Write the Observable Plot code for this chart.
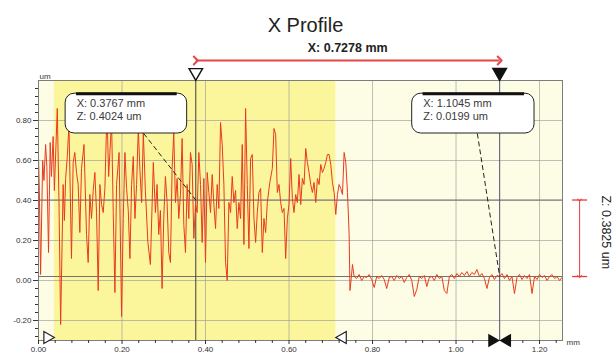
<!DOCTYPE html>
<html><head><meta charset="utf-8">
<script src="https://cdn.jsdelivr.net/npm/d3@7"></script>
<script src="https://cdn.jsdelivr.net/npm/@observablehq/plot@0.6"></script>
<style>body{margin:0;background:#fff;}</style>
</head><body><div id="chart"></div>
<script>
const title = "X Profile";
const xUnit = "mm", zUnit = "um";
const cursorX = [0.3767, 1.1045];
const cursorZ = [0.4024, 0.0199];
const deltaXLabel = "X: 0.7278 mm";
const deltaZLabel = "Z: 0.3825 um";
const band = [0.038, 0.712];
const xMajor = [0, 0.2, 0.4, 0.6, 0.8, 1.0, 1.2];
const yMajor = [-0.2, 0, 0.2, 0.4, 0.6, 0.8];
const xMinor = [0.04,0.08,0.12,0.16,0.24,0.28,0.32,0.36,0.44,0.48,0.52,0.56,0.64,0.68,0.72,0.76,0.84,0.88,0.92,0.96,1.04,1.08,1.12,1.16,1.24];
const yMinor = [-0.28,-0.24,-0.16,-0.12,-0.08,-0.04,0.04,0.08,0.12,0.16,0.24,0.28,0.32,0.36,0.44,0.48,0.52,0.56,0.64,0.68,0.72,0.76,0.84,0.88,0.92,0.96];

// rough (polished-off) region of the profile: [x mm, z um]
const roughProfile = [
[0.000,0.62],[0.002,0.45],[0.005,0.03],[0.010,0.60],[0.013,0.50],[0.017,0.68],[0.020,0.57],[0.024,0.14],
[0.028,0.69],[0.031,0.52],[0.035,0.72],[0.038,0.45],[0.045,0.86],[0.049,0.40],[0.053,-0.22],[0.059,0.48],
[0.062,0.30],[0.065,0.51],[0.069,0.62],[0.073,0.78],[0.079,0.11],[0.083,0.59],[0.087,0.64],[0.091,0.54],
[0.095,0.48],[0.099,0.24],[0.103,0.56],[0.109,0.68],[0.115,0.23],[0.119,0.09],[0.123,0.43],[0.127,0.31],
[0.131,0.45],[0.135,0.54],[0.139,0.34],[0.143,-0.05],[0.147,0.48],[0.151,0.38],[0.155,0.34],[0.159,0.46],
[0.164,0.85],[0.168,0.52],[0.171,0.64],[0.175,0.80],[0.179,0.34],[0.183,-0.06],[0.187,0.48],[0.193,0.64],
[0.199,-0.18],[0.203,0.31],[0.207,0.64],[0.211,0.46],[0.215,0.35],[0.219,0.11],[0.223,0.48],[0.227,0.62],
[0.231,0.31],[0.235,0.48],[0.239,0.76],[0.243,0.55],[0.247,0.39],[0.251,0.74],[0.256,0.45],[0.262,0.19],
[0.268,0.08],[0.275,0.59],[0.280,0.34],[0.284,0.48],[0.288,0.23],[0.292,0.35],[0.296,-0.04],[0.300,0.31],
[0.304,0.52],[0.308,0.39],[0.312,0.14],[0.316,0.09],[0.320,0.56],[0.324,0.74],[0.328,0.39],[0.332,0.51],
[0.336,0.31],[0.340,0.43],[0.344,0.71],[0.348,0.28],[0.352,0.14],[0.356,0.48],[0.360,0.31],[0.364,0.64],
[0.368,0.58],[0.372,0.21],[0.376,0.38],[0.380,0.34],[0.384,0.64],[0.388,0.48],[0.392,0.19],[0.396,0.51],
[0.400,0.09],[0.404,0.54],[0.408,0.44],[0.412,0.34],[0.416,0.53],[0.420,0.38],[0.424,0.26],[0.428,0.48],
[0.432,0.36],[0.436,0.79],[0.440,0.68],[0.444,0.48],[0.448,0.09],[0.452,0.00],[0.456,0.39],[0.460,0.34],
[0.464,0.52],[0.468,0.39],[0.472,0.45],[0.476,0.26],[0.480,0.39],[0.484,0.31],[0.488,0.68],[0.492,0.18],
[0.496,0.86],[0.500,0.48],[0.504,0.16],[0.508,0.61],[0.512,0.63],[0.516,0.31],[0.520,0.19],[0.524,0.34],
[0.528,0.44],[0.532,0.46],[0.536,0.14],[0.540,0.31],[0.544,0.24],[0.548,0.39],[0.554,0.49],[0.560,0.56],
[0.564,0.76],[0.568,0.73],[0.572,0.44],[0.576,0.48],[0.580,0.39],[0.584,0.34],[0.588,0.36],[0.592,0.11],
[0.596,0.31],[0.600,0.38],[0.604,0.61],[0.608,0.41],[0.612,0.34],[0.616,0.43],[0.620,0.39],[0.624,0.53],
[0.628,0.38],[0.632,0.51],[0.636,0.48],[0.640,0.66],[0.644,0.59],[0.648,0.54],[0.652,0.48],[0.656,0.44],
[0.660,0.49],[0.664,0.39],[0.668,0.51],[0.672,0.48],[0.676,0.58],[0.680,0.54],[0.684,0.56],[0.688,0.59],
[0.692,0.63],[0.696,0.63],[0.700,0.58],[0.704,0.49],[0.708,0.44],[0.712,0.33],[0.716,0.43],[0.720,0.48],
[0.724,0.46],[0.728,0.43],[0.732,0.64],[0.736,0.59],[0.740,0.44],[0.744,0.23],[0.746,-0.05],[0.749,0.01],
[0.752,0.08]
];
// flat (polished) region of the profile
const flatProfile = [
[0.756,0.02],[0.762,0.01],[0.768,0.03],[0.774,0.00],[0.780,0.02],[0.786,0.015],[0.792,0.03],[0.798,0.005],
[0.804,-0.035],[0.810,0.02],[0.816,0.01],[0.822,0.025],[0.828,0.005],[0.834,-0.04],[0.840,0.015],[0.846,0.02],
[0.852,0.00],[0.858,0.025],[0.864,0.01],[0.870,0.02],[0.876,-0.01],[0.882,0.015],[0.888,0.03],[0.894,0.00],
[0.900,-0.08],[0.906,-0.045],[0.912,0.02],[0.918,0.01],[0.924,0.025],[0.930,-0.03],[0.936,0.015],[0.942,0.02],
[0.948,0.00],[0.954,0.03],[0.960,0.01],[0.966,0.02],[0.972,-0.05],[0.978,-0.065],[0.984,0.02],[0.990,0.03],
[0.996,0.01],[1.002,0.035],[1.008,0.02],[1.014,0.04],[1.020,0.025],[1.026,0.045],[1.032,0.02],[1.038,0.04],
[1.044,0.03],[1.050,0.055],[1.056,0.02],[1.062,0.035],[1.068,0.01],[1.074,-0.04],[1.080,0.015],[1.086,0.03],
[1.092,0.005],[1.098,0.025],[1.104,0.02],[1.110,0.035],[1.116,0.01],[1.122,0.03],[1.128,0.00],[1.134,0.02],
[1.140,-0.065],[1.146,0.015],[1.152,0.03],[1.158,0.005],[1.164,0.025],[1.170,0.01],[1.176,0.03],[1.182,-0.065],
[1.188,0.02],[1.194,0.005],[1.200,0.03],[1.206,0.015],[1.212,0.025],[1.218,0.00],[1.224,0.02],[1.230,0.03],
[1.236,0.01],[1.242,0.02],[1.248,0.00],[1.254,0.015]
];

const xMax = 1.255, yMin = -0.3, yMax = 1.0;
const profile = roughProfile.concat(flatProfile).map(([x, z]) => ({x, z}));
const fmt = d => d.toFixed(2);
const callouts = [
  {x1: 0.065, x2: 0.356, y1: 0.735, y2: 0.934, lx: 0.252, cx: cursorX[0], cz: cursorZ[0]},
  {x1: 0.895, x2: 1.188, y1: 0.735, y2: 0.934, lx: 1.051, cx: cursorX[1], cz: cursorZ[1]}
].map(d => ({...d, text: `X: ${d.cx.toFixed(4)} mm\nZ: ${d.cz.toFixed(4)} um`}));
const midX = (cursorX[0] + cursorX[1]) / 2;
const measX = xMax + 0.041;

const chart = Plot.plot({
  width: 614, height: 358,
  marginTop: 80, marginBottom: 18, marginLeft: 38, marginRight: 52,
  style: {fontFamily: "'Liberation Sans', Arial, sans-serif", background: "white", overflow: "visible"},
  x: {domain: [0, xMax]},
  y: {domain: [yMin, yMax]},
  marks: [
    Plot.frame({fill: "#fdfce4"}),
    Plot.rect([band], {x1: d => d[0], x2: d => d[1], fill: "#fbf59c"}),
    Plot.gridX(xMajor, {stroke: "#9a9a9a", strokeOpacity: 0.8, strokeWidth: 0.8}),
    Plot.gridY(yMajor, {stroke: "#9a9a9a", strokeOpacity: 0.8, strokeWidth: 0.8}),
    Plot.ruleY(cursorZ, {stroke: "#6f7378", strokeWidth: 1.2}),
    Plot.ruleX([cursorX[0]], {y1: yMin, y2: yMax, stroke: "#3c3c3c", strokeWidth: 1}),
    Plot.ruleX([cursorX[1]], {y1: yMin, y2: yMax, stroke: "#50507a", strokeWidth: 1}),
    Plot.line(profile, {x: "x", y: "z", stroke: "#ea3a1e", strokeWidth: 1}),
    Plot.frame({stroke: "#7d7d7d", strokeWidth: 1}),
    Plot.axisY(yMajor, {tickSize: 5, tickPadding: 2, tickFormat: fmt, fontSize: 8, color: "#333", label: null}),
    Plot.axisY(yMinor, {tickSize: 3, tickFormat: () => "", color: "#333", label: null}),
    Plot.axisX(xMajor, {tickSize: 4, tickPadding: 2, tickFormat: fmt, fontSize: 8, color: "#333", label: null}),
    Plot.axisX(xMinor, {tickSize: 3, tickFormat: () => "", color: "#333", label: null}),
    Plot.text([zUnit], {frameAnchor: "top-left", dx: 1, dy: -7, fontSize: 8, fill: "#333", textAnchor: "start"}),
    Plot.text([xUnit], {frameAnchor: "bottom-right", dx: 4, dy: 4, fontSize: 8, fill: "#333", textAnchor: "start"}),
    // callout boxes
    Plot.link(callouts, {x1: "lx", y1: "y1", x2: "cx", y2: "cz", stroke: "#222", strokeDasharray: "5,3", strokeWidth: 1}),
    Plot.rect(callouts, {x1: "x1", x2: "x2", y1: "y1", y2: "y2", fill: "white", stroke: "#222", strokeWidth: 1, rx: 9}),
    Plot.link(callouts, {x1: d => d.x1 + 0.025, x2: d => d.x2 - 0.025, y1: "y2", y2: "y2", stroke: "#111", strokeWidth: 3}),
    Plot.text(callouts, {x: "x1", y: "y2", dx: 11, dy: 4, text: "text", lineAnchor: "top", textAnchor: "start", fontSize: 11, lineHeight: 1.2, fill: "#3a3a3a"}),
    // top cursor markers and span arrow
    Plot.dot([cursorX[0]], {x: d => d, y: yMax, dy: -8, symbol: "triangle", rotate: 180, r: 5, fill: "white", stroke: "#111", strokeWidth: 1.4}),
    Plot.dot([cursorX[1]], {x: d => d, y: yMax, dy: -8, symbol: "triangle", rotate: 180, r: 5, fill: "#111", stroke: "#111"}),
    Plot.link([cursorX], {x1: d => d[0], x2: d => d[1], y1: yMax, y2: yMax, dy: -20, stroke: "#e4474a", strokeWidth: 2, markerStart: "arrow", markerEnd: "arrow"}),
    Plot.text([deltaXLabel], {x: midX, y: yMax, dy: -33, fontSize: 12.5, fontWeight: "bold", fill: "#222"}),
    // bottom markers
    Plot.dot([band[0]], {x: d => d, y: yMin, dy: -3, dx: -7, symbol: "triangle", rotate: 90, r: 4.5, fill: "white", stroke: "#222", strokeWidth: 1.2}),
    Plot.dot([band[1]], {x: d => d, y: yMin, dy: -3, dx: 7, symbol: "triangle", rotate: -90, r: 4.5, fill: "white", stroke: "#222", strokeWidth: 1.2}),
    Plot.dot([cursorX[1]], {x: d => d, y: yMin, dx: -7.5, symbol: "triangle", rotate: 90, r: 5, fill: "#111"}),
    Plot.dot([cursorX[1]], {x: d => d, y: yMin, dx: 7.5, symbol: "triangle", rotate: -90, r: 5, fill: "#111"}),
    // Z span at right
    Plot.link([cursorZ], {x1: measX, x2: measX, y1: d => d[0], y2: d => d[1], stroke: "#e83a3a", strokeWidth: 1, markerStart: "arrow", markerEnd: "arrow"}),
    Plot.link(cursorZ, {x1: measX - 0.018, x2: measX + 0.018, y1: d => d, y2: d => d, stroke: "#e83a3a", strokeWidth: 1.3}),
    Plot.text([deltaZLabel], {x: xMax + 0.103, y: (cursorZ[0] + cursorZ[1]) / 2, dy: -6, rotate: 90, fontSize: 12.5, fill: "#222"}),
    // title
    Plot.text([title], {frameAnchor: "top", dx: 5, dy: -63, fontSize: 20, fill: "#222"})
  ]
});
document.getElementById("chart").appendChild(chart);
</script>
</body></html>
